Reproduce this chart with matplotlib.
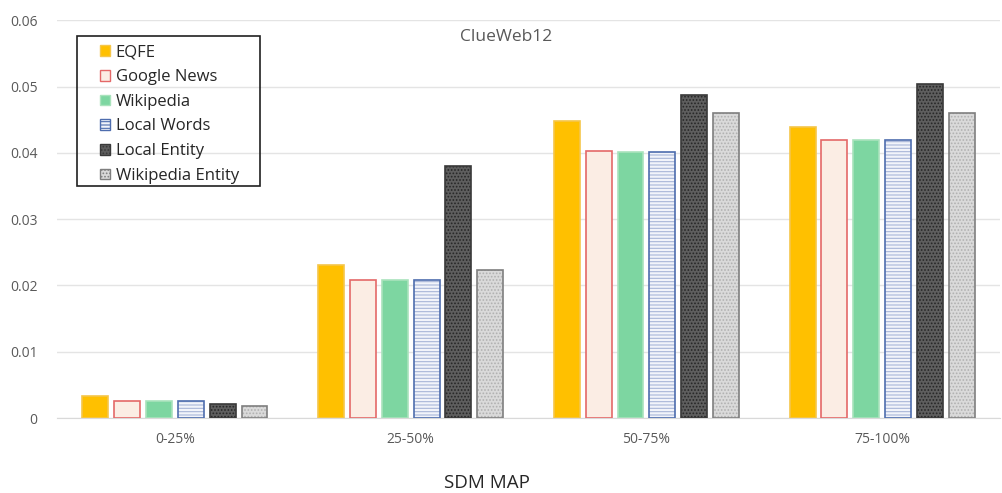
import matplotlib
matplotlib.use("Agg")
import matplotlib.pyplot as plt
import numpy as np
from matplotlib.patches import Patch, Rectangle

plt.rcParams['font.family'] = ['Open Sans', 'DejaVu Sans']

categories = ['0-25%', '25-50%', '50-75%', '75-100%']
series_names = ['EQFE', 'Google News', 'Wikipedia', 'Local Words', 'Local Entity', 'Wikipedia Entity']
eqfe = [0.0033, 0.0231, 0.0448, 0.0439]
google_news = [0.0026, 0.0208, 0.0403, 0.0420]
wikipedia = [0.0026, 0.0208, 0.0401, 0.0420]
local_words = [0.0026, 0.0208, 0.0402, 0.0420]
local_entity = [0.0021, 0.0380, 0.0487, 0.0504]
wikipedia_entity = [0.0018, 0.0224, 0.0460, 0.0460]
yticks = [0, 0.01, 0.02, 0.03, 0.04, 0.05, 0.06]
ytick_labels = ['0', '0.01', '0.02', '0.03', '0.04', '0.05', '0.06']

series = [eqfe, google_news, wikipedia, local_words, local_entity, wikipedia_entity]
# (face, hatch, hatch color, edge)
styles = [
    ('#FFC000', None, None, '#F5C64A'),
    ('#FBEDE4', None, None, '#E46868'),
    ('#7DD6A1', None, None, '#A9E3BC'),
    ('#F2F4FA', '-----', '#A8B6D8', '#4E6DAE'),
    ('#5E5E5E', '.....', '#262626', '#3A3A3A'),
    ('#DADADA', '.....', '#B0B0B0', '#7F7F7F'),
]

W, H = 1002, 493
fig = plt.figure(figsize=(W / 100, H / 100), dpi=100)
ax = fig.add_axes([0.057, 0.152, 0.941, 0.807])

x = np.arange(len(categories))
pitch = 0.135
width = 0.11
plt.rcParams['hatch.linewidth'] = 0.8
for i, (vals, st) in enumerate(zip(series, styles)):
    face, hatch, hcol, edge = st
    pos = x + (i - 2.5) * pitch
    if hatch:
        ax.bar(pos, vals, width, color=face, hatch=hatch, edgecolor=hcol, linewidth=0, zorder=3)
        ax.bar(pos, vals, width, fill=False, edgecolor=edge, linewidth=1.2, zorder=4)
    else:
        ax.bar(pos, vals, width, color=face, edgecolor=edge, linewidth=1.2, zorder=3)

ax.set_xlim(-0.5, 3.5)
ax.set_ylim(0, 0.06)
ax.set_yticks(yticks)
ax.set_yticklabels(ytick_labels)
ax.set_xticks(x)
ax.set_xticklabels(categories)
ax.grid(axis='y', color='#E4E4E4', linewidth=1, zorder=0)
for s in ['top', 'right', 'left']:
    ax.spines[s].set_visible(False)
ax.spines['bottom'].set_color('#D9D9D9')
ax.tick_params(axis='both', length=0, colors='#595959', labelsize=10)
ax.tick_params(axis='y', pad=14)
ax.tick_params(axis='x', pad=10)

ax.text(0.476, 0.958, 'ClueWeb12', transform=ax.transAxes, ha='center', va='center',
        fontsize=12.5, color='#595959')
fig.text(0.486, 0.002, 'SDM MAP', ha='center', va='bottom', fontsize=13.5, color='#262626')

handles = []
for st in styles:
    face, hatch, hcol, edge = st
    if hatch:
        handles.append(Patch(facecolor=face, hatch=hatch, edgecolor=edge, linewidth=1))
    else:
        handles.append(Patch(facecolor=face, edgecolor=edge, linewidth=1))
leg = fig.legend(handles, series_names, loc='upper left',
                 bbox_to_anchor=(100 / W, 1 - 44.5 / H), bbox_transform=fig.transFigure,
                 borderaxespad=0, borderpad=0, handlelength=0.6, handleheight=0.6,
                 handletextpad=0.35, labelspacing=0.52, fontsize=12, frameon=False)
for t in leg.get_texts():
    t.set_color('#262626')
fig.add_artist(Rectangle((77 / W, 1 - 186 / H), (260 - 77) / W, (186 - 36) / H,
                         transform=fig.transFigure, fill=False, edgecolor='#202020',
                         linewidth=1.2, zorder=5))

fig.savefig('out.png', dpi=100)
